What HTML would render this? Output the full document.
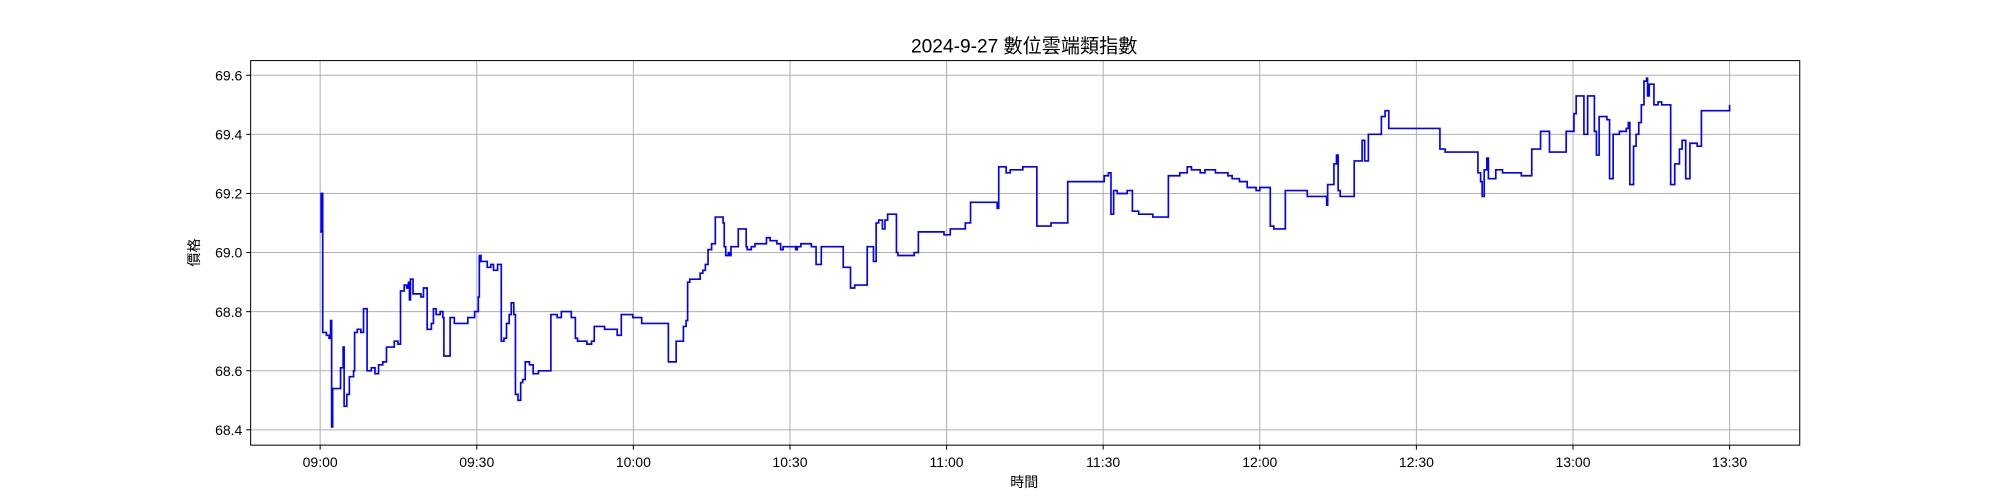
<!DOCTYPE html>
<html><head><meta charset="utf-8">
<style>
html,body{margin:0;padding:0;background:#fff;}
svg{display:block;font-family:"Liberation Sans","Noto Sans CJK TC",sans-serif;}
</style></head>
<body>
<svg id="chart" width="2000" height="500" viewBox="0 0 2000 500">
<rect x="0" y="0" width="2000" height="500" fill="#fff"/>
<g transform="scale(1.27551)">
<text x="803" y="41" text-anchor="middle" font-size="15" fill="#000">2024-9-27 數位雲端類指數</text>
<g id="grid"></g>
<g id="xticks"></g>
<g id="yticks"></g>
<path id="line" fill="none" stroke="#0000ff" stroke-width="1.3"/>
<rect x="196.5" y="47.5" width="1214.5" height="301.5" fill="none" stroke="#000" stroke-width="0.8"/>
<text x="803" y="382" text-anchor="middle" font-size="11" fill="#000">時間</text>
<text x="0" y="0" transform="translate(156,198) rotate(-90)" text-anchor="middle" font-size="11" fill="#000">價格</text>
</g>
</svg>
<script>
const minutes = [0,0.2,0.5,1.2,1.7,2.0,2.2,2.4,3.4,3.9,4.4,4.6,5.1,5.6,6.4,6.6,7.1,7.8,8.3,8.8,9.0,9.8,10.5,11.2,12.0,12.7,14.2,14.9,15.4,16.1,16.6,16.9,17.1,17.3,17.8,19.3,19.8,20.5,21.3,21.7,22.2,23.0,23.5,23.7,24.9,25.7,28.3,29.3,29.6,30.3,30.5,30.8,32.0,32.7,33.2,34.0,34.7,35.2,35.7,36.2,36.6,37.1,37.4,37.9,38.4,38.8,39.3,40.1,40.8,41.8,42.5,44.2,45.4,46.2,48.1,48.9,49.3,49.8,51.1,52.0,52.5,54.5,56.9,57.7,59.1,59.9,61.6,66.7,68.2,69.6,70.1,70.4,70.8,72.8,73.3,73.8,74.3,75.0,75.7,77.2,77.4,77.7,78.2,78.4,78.7,80.1,81.6,81.8,82.6,83.3,85.5,86.2,87.5,88.2,88.7,90.4,91.1,91.4,92.1,94.1,95.0,96.0,100.2,101.6,102.4,104.8,106.0,106.5,107.0,107.7,108.2,108.7,110.2,110.4,110.7,113.8,114.6,118.7,119.5,120.7,123.6,124.6,129.7,130.0,131.4,132.2,134.6,137.3,140.0,143.2,150.2,151.0,151.5,152.0,152.7,153.7,154.6,155.6,156.8,159.5,162.5,164.7,166.1,166.9,168.6,169.5,171.5,173.9,174.7,176.1,177.6,179.3,180.0,182.0,182.7,184.9,189.1,192.8,193.0,194.2,194.7,195.0,195.4,198.1,199.6,200.1,200.8,203.3,204.0,204.7,214.5,215.5,218.4,221.8,222.3,222.6,223.0,223.5,223.8,225.2,226.5,230.1,232.1,233.8,235.5,238.7,240.2,240.6,242.1,242.8,244.1,244.5,245.0,246.5,247.0,247.7,248.9,250.2,250.6,250.9,251.6,252.1,252.6,253.1,253.6,254.1,254.3,254.6,255.5,256.3,257.0,258.2,258.7,259.5,260.4,260.9,261.6,262.4,263.8,264.6,269.7,270];
const prices = [69.07,69.2,68.73,68.72,68.71,68.77,68.41,68.54,68.54,68.61,68.68,68.48,68.52,68.58,68.60,68.73,68.74,68.73,68.81,68.81,68.60,68.61,68.59,68.62,68.63,68.68,68.70,68.69,68.87,68.89,68.88,68.9,68.84,68.91,68.86,68.85,68.88,68.74,68.76,68.81,68.79,68.80,68.78,68.65,68.78,68.76,68.78,68.78,68.80,68.85,68.99,68.97,68.95,68.96,68.94,68.96,68.70,68.71,68.76,68.79,68.83,68.79,68.52,68.50,68.56,68.57,68.63,68.62,68.59,68.60,68.60,68.79,68.78,68.80,68.78,68.71,68.70,68.70,68.69,68.70,68.75,68.74,68.72,68.79,68.79,68.78,68.76,68.63,68.70,68.75,68.77,68.90,68.91,68.93,68.94,68.96,69.01,69.03,69.12,69.10,69.02,68.99,69.00,68.99,69.02,69.08,69.02,69.01,69.02,69.03,69.05,69.04,69.03,69.01,69.02,69.02,69.01,69.02,69.03,69.02,68.96,69.02,68.95,68.88,68.89,69.02,68.97,69.1,69.11,69.08,69.11,69.13,69.13,69.0,68.99,69.0,69.07,69.07,69.06,69.08,69.10,69.17,69.15,69.29,69.27,69.28,69.29,69.09,69.10,69.24,69.26,69.27,69.13,69.21,69.2,69.20,69.21,69.14,69.13,69.12,69.26,69.27,69.29,69.28,69.27,69.28,69.27,69.26,69.25,69.24,69.22,69.21,69.22,69.09,69.08,69.21,69.19,69.16,69.23,69.30,69.33,69.21,69.19,69.31,69.38,69.31,69.40,69.46,69.48,69.42,69.35,69.34,69.34,69.27,69.24,69.19,69.28,69.32,69.25,69.28,69.27,69.26,69.35,69.41,69.34,69.41,69.47,69.53,69.40,69.53,69.41,69.33,69.46,69.45,69.25,69.40,69.41,69.42,69.44,69.23,69.36,69.40,69.44,69.50,69.58,69.59,69.53,69.57,69.50,69.51,69.50,69.50,69.23,69.30,69.35,69.38,69.25,69.37,69.36,69.48,69.48,69.50];
const xTickMinutes = [0,30,60,90,120,150,180,210,240,270];
const xTickLabels = ["09:00","09:30","10:00","10:30","11:00","11:30","12:00","12:30","13:00","13:30"];
const yTickValues = [68.4,68.6,68.8,69.0,69.2,69.4,69.6];
const yTickLabels = ["68.4","68.6","68.8","69.0","69.2","69.4","69.6"];

const X0 = 251, PXMIN = 1105/270;
const Y0 = 337, PXUNIT = 278/1.2;
function xs(m){ return X0 + m*PXMIN; }
function ys(p){ return Y0 - (p-68.4)*PXUNIT; }
const NS = "http://www.w3.org/2000/svg";
const grid = document.getElementById('grid');
const xg = document.getElementById('xticks');
const yg = document.getElementById('yticks');
xTickMinutes.forEach((m,i)=>{
  const x = xs(m);
  const gl = document.createElementNS(NS,'line');
  gl.setAttribute('x1',x);gl.setAttribute('x2',x);gl.setAttribute('y1',47.5);gl.setAttribute('y2',349);
  gl.setAttribute('stroke','#b0b0b0');gl.setAttribute('stroke-width','0.8');
  
  
  grid.appendChild(gl);
  const tk = document.createElementNS(NS,'line');
  tk.setAttribute('x1',x);tk.setAttribute('x2',x);tk.setAttribute('y1',349);tk.setAttribute('y2',352.5);
  tk.setAttribute('stroke','#000');tk.setAttribute('stroke-width','0.8');
  
  
  xg.appendChild(tk);
  const t = document.createElementNS(NS,'text');
  t.setAttribute('x',x);t.setAttribute('y',366);t.setAttribute('text-anchor','middle');t.setAttribute('font-size','11');
  t.textContent = xTickLabels[i];
  
  
  xg.appendChild(t);
});
yTickValues.forEach((v,i)=>{
  const y = ys(v);
  const gl = document.createElementNS(NS,'line');
  gl.setAttribute('x1',196.5);gl.setAttribute('x2',1411);gl.setAttribute('y1',y);gl.setAttribute('y2',y);
  gl.setAttribute('stroke','#b0b0b0');gl.setAttribute('stroke-width','0.8');
  
  
  grid.appendChild(gl);
  const tk = document.createElementNS(NS,'line');
  tk.setAttribute('x1',193);tk.setAttribute('x2',196.5);tk.setAttribute('y1',y);tk.setAttribute('y2',y);
  tk.setAttribute('stroke','#000');tk.setAttribute('stroke-width','0.8');
  
  
  yg.appendChild(tk);
  const t = document.createElementNS(NS,'text');
  t.setAttribute('x',190);t.setAttribute('y',y+4);t.setAttribute('text-anchor','end');t.setAttribute('font-size','11');
  t.textContent = yTickLabels[i];
  
  
  yg.appendChild(t);
});
let d = '';
for(let i=0;i<minutes.length;i++){
  const x = xs(minutes[i]), y = ys(prices[i]);
  if(i===0){ d += 'M'+x.toFixed(1)+','+y.toFixed(1); }
  else { d += ' H'+x.toFixed(1)+' V'+y.toFixed(1); }
}
document.getElementById('line').setAttribute('d', d);
</script>
</body></html>
